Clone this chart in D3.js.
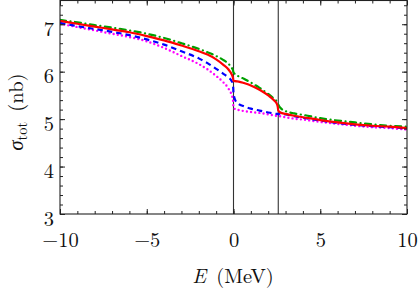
<!DOCTYPE html>
<html><head><meta charset="utf-8">
<script src="https://cdn.jsdelivr.net/npm/d3@7"></script>
<style>body{margin:0;background:#fff}svg{display:block}</style>
</head><body>
<script>
const energies = [-10,-9,-8,-7,-6,-5,-4,-3,-2,-1.5,-1,-0.6,-0.3,-0.1,-0.03,0,0.1,0.3,0.6,1,1.5,2,2.3,2.5,2.55,2.58,2.7,3,3.5,4,5,6,7,8,9,10];
const redSeries = [7.07,7.01,6.95,6.89,6.83,6.75,6.66,6.55,6.43,6.36,6.26,6.15,6.05,5.94,5.87,5.81,5.80,5.79,5.76,5.71,5.62,5.50,5.41,5.32,5.26,5.18,5.14,5.11,5.07,5.04,4.98,4.93,4.89,4.86,4.84,4.81];
const greenSeries = [7.09,7.04,6.98,6.93,6.87,6.80,6.71,6.60,6.48,6.41,6.33,6.25,6.17,6.08,6.03,5.98,5.95,5.90,5.85,5.77,5.66,5.53,5.44,5.37,5.34,5.31,5.24,5.17,5.12,5.09,5.02,4.97,4.93,4.89,4.86,4.84];
const blueSeries = [7.03,6.96,6.90,6.84,6.77,6.68,6.57,6.43,6.28,6.18,6.06,5.96,5.88,5.80,5.74,5.55,5.40,5.32,5.27,5.22,5.18,5.14,5.12,5.11,5.11,5.10,5.12,5.10,5.06,5.03,4.97,4.92,4.88,4.85,4.83,4.80];
const magentaSeries = [7.01,6.94,6.87,6.80,6.73,6.64,6.50,6.33,6.16,6.05,5.91,5.78,5.65,5.50,5.40,5.24,5.21,5.19,5.17,5.15,5.13,5.10,5.08,5.07,5.07,5.07,5.06,5.04,5.01,4.99,4.94,4.90,4.86,4.83,4.81,4.78];
const thresholds = [0, 2.58];
const xMajorTicks = [-10,-5,0,5,10];
const yMajorTicks = [3,4,5,6,7];
const xDomain = [-10, 10];
const yDomain = [3, 7.5];

const W = 420, H = 297;
const L = 60, R = 407, T = 0.5, B = 214;
const FONT = '"Latin Modern Roman", "Liberation Serif", serif';
const svg = d3.select("body").append("svg").attr("width", W).attr("height", H);
svg.append("rect").attr("width", W).attr("height", H).attr("fill", "#fff");

const x = d3.scaleLinear().domain(xDomain).range([L, R]);
const y = d3.scaleLinear().domain(yDomain).range([B, T]);

const axisColor = "#222";

svg.append("clipPath").attr("id", "clip").append("rect")
  .attr("x", L).attr("y", T).attr("width", R - L).attr("height", B - T);

const plot = svg.append("g").attr("clip-path", "url(#clip)");

plot.selectAll("line.th").data(thresholds).enter().append("line")
  .attr("x1", d => x(d)).attr("x2", d => x(d)).attr("y1", y(yDomain[0])).attr("y2", y(yDomain[1]))
  .attr("stroke", "#333").attr("stroke-width", 1.1);

const series = [
  {vals: magentaSeries, color: "#ff00ff", dash: "0,4.2", width: 2.4, cap: "round"},
  {vals: blueSeries, color: "#0000ff", dash: "5.5,4", width: 2.2, cap: "butt"},
  {vals: greenSeries, color: "#00a000", dash: "6,4.5,0.1,4.5", width: 2.2, cap: "round"},
  {vals: redSeries, color: "#ff0000", dash: null, width: 2.2, cap: "butt"}
];
const line = d3.line().x(d => x(d[0])).y(d => y(d[1])).curve(d3.curveMonotoneX);
series.forEach(s => {
  plot.append("path")
    .datum(energies.map((e, i) => [e, s.vals[i]]))
    .attr("d", line).attr("fill", "none")
    .attr("stroke", s.color).attr("stroke-width", s.width)
    .attr("stroke-linecap", s.cap)
    .attr("stroke-dasharray", s.dash);
});

const xMinor = d3.range(-10, 10.001, 1);
const yMinor = d3.range(3, 7.5001, 0.2).map(v => +v.toFixed(1));

function styleAxis(g) {
  g.select(".domain").remove();
  g.selectAll(".tick line").attr("stroke", axisColor).attr("stroke-width", 1);
}
svg.append("g").attr("transform", `translate(0,${B})`)
  .call(d3.axisBottom(x).tickValues(xMinor).tickSize(-3).tickFormat(""))
  .call(styleAxis);
svg.append("g").attr("transform", `translate(0,${T})`)
  .call(d3.axisTop(x).tickValues(xMinor).tickSize(-3).tickFormat(""))
  .call(styleAxis);
svg.append("g").attr("transform", `translate(${L},0)`)
  .call(d3.axisLeft(y).tickValues(yMinor).tickSize(-3).tickFormat(""))
  .call(styleAxis);
svg.append("g").attr("transform", `translate(${R},0)`)
  .call(d3.axisRight(y).tickValues(yMinor).tickSize(-3).tickFormat(""))
  .call(styleAxis);

const fmt = d => d < 0 ? "\u2212" + Math.abs(d) : String(d);
const xb = svg.append("g").attr("transform", `translate(0,${B})`)
  .call(d3.axisBottom(x).tickValues(xMajorTicks).tickSize(-5).tickPadding(0).tickFormat(fmt))
  .call(styleAxis);
xb.selectAll("text").attr("y", 33).attr("dy", null)
  .style("font-family", FONT).style("font-size", "20.5px").attr("fill", "#111");
svg.append("g").attr("transform", `translate(0,${T})`)
  .call(d3.axisTop(x).tickValues(xMajorTicks).tickSize(-5).tickFormat(""))
  .call(styleAxis);
const yl = svg.append("g").attr("transform", `translate(${L},0)`)
  .call(d3.axisLeft(y).tickValues(yMajorTicks).tickSize(-5).tickFormat(d => String(d)))
  .call(styleAxis);
yl.selectAll("text").attr("x", -6).attr("dy", null).attr("y", 11).attr("text-anchor", "end")
  .style("font-family", FONT).style("font-size", "20.5px").attr("fill", "#111");
svg.append("g").attr("transform", `translate(${R},0)`)
  .call(d3.axisRight(y).tickValues(yMajorTicks).tickSize(-5).tickFormat(""))
  .call(styleAxis);

svg.append("rect").attr("x", L).attr("y", T).attr("width", R - L).attr("height", B - T)
  .attr("fill", "none").attr("stroke", axisColor).attr("stroke-width", 1.1);

const xt = svg.append("text").attr("x", 233).attr("y", 283).attr("text-anchor", "middle")
  .style("font-family", FONT).style("font-size", "20.5px").attr("fill", "#111");
xt.append("tspan").style("font-style", "italic").text("E");
xt.append("tspan").text("\u2002(MeV)");

const yt = svg.append("text").attr("transform", "translate(23,112) rotate(-90)")
  .attr("text-anchor", "middle").style("font-family", FONT).style("font-size", "20.5px").attr("fill", "#111");
yt.append("tspan").style("font-style", "italic").text("\u03c3");
yt.append("tspan").style("font-size", "14.5px").attr("dy", 4).text("tot");
yt.append("tspan").attr("dy", -4).text("\u2002(nb)");
</script>
</body></html>
